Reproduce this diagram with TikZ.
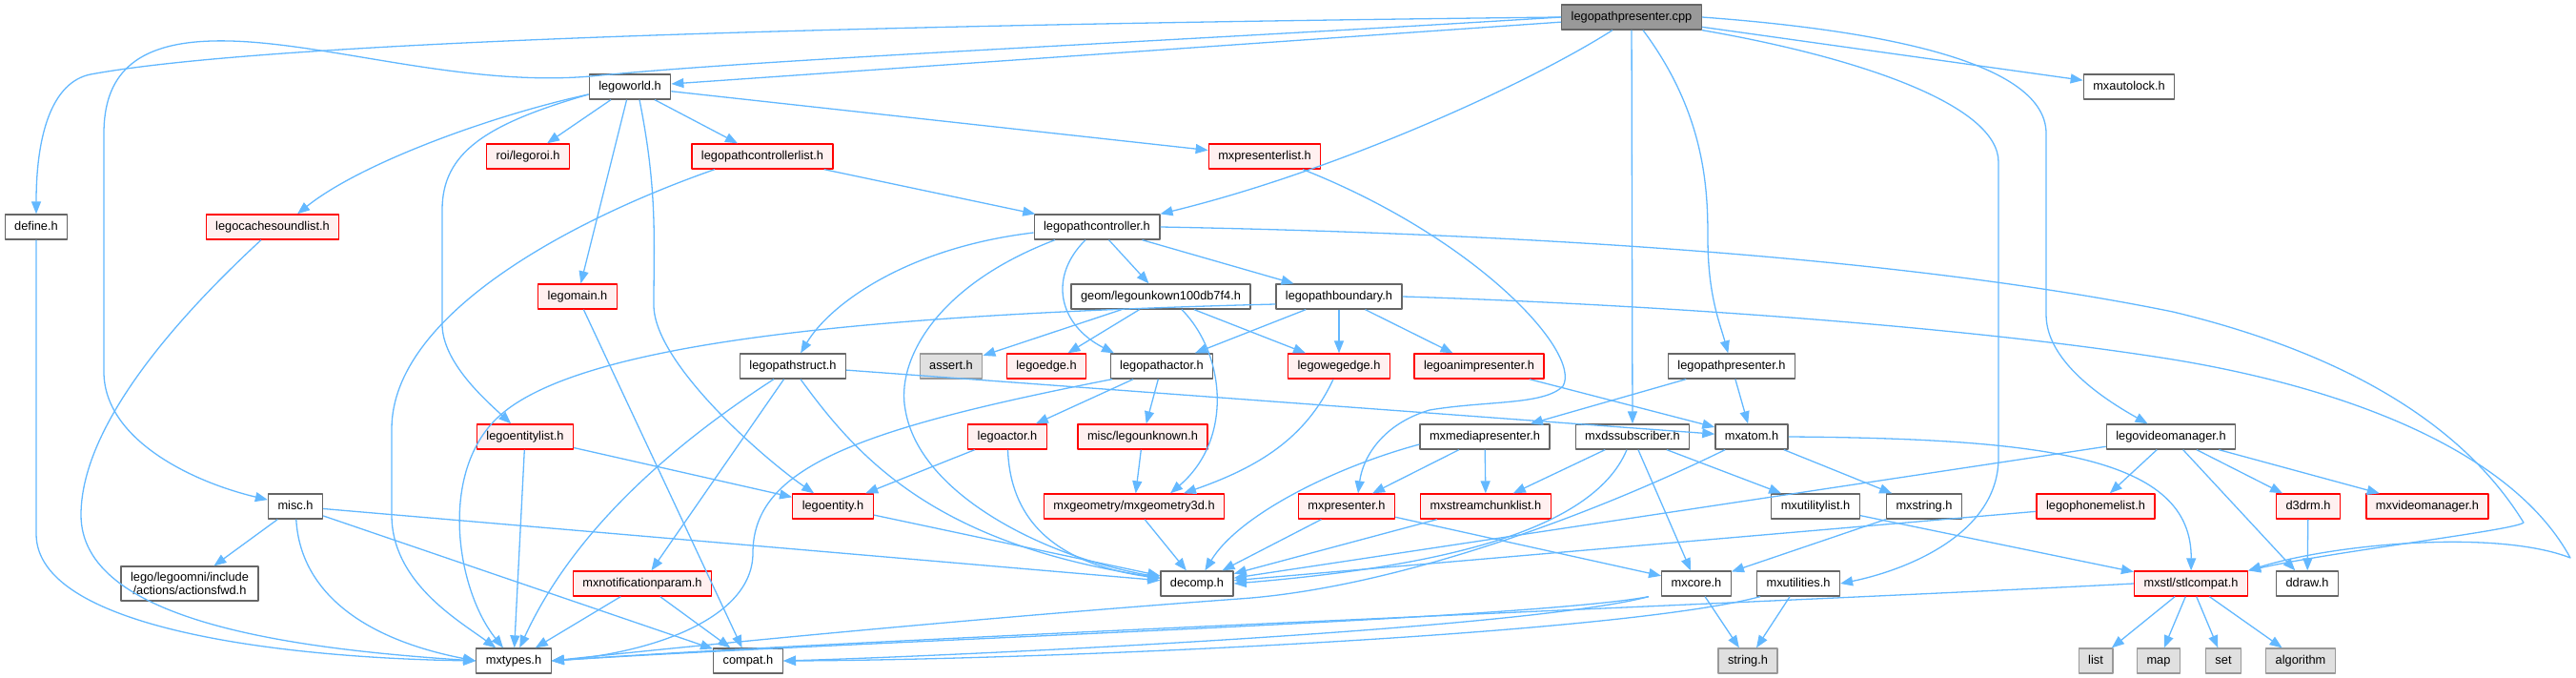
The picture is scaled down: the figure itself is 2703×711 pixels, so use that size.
\documentclass[tikz,border=0pt]{standalone}
\usepackage{fontspec}
\setmainfont{Liberation Sans}
\usetikzlibrary{arrows.meta}
\definecolor{edgeblue}{HTML}{63B8FF}
\definecolor{boxgray}{HTML}{666666}
\definecolor{fillred}{HTML}{FFF0F0}
\definecolor{sysfill}{HTML}{E0E0E0}
\definecolor{sysgray}{HTML}{999999}
\definecolor{srcfill}{HTML}{999999}
\begin{document}
\begin{tikzpicture}[x=0.5pt,y=-0.5pt,font=\fontsize{6.4}{7.2}\selectfont,line join=round,>={Triangle[length=6.5pt,width=5pt]},
hdr/.style={draw=boxgray,fill=white,line width=.65pt,minimum height=13pt,inner xsep=5pt,inner ysep=0pt,text height=4.7pt,text depth=1.3pt},
part/.style={hdr,draw=red,fill=fillred},
sys/.style={hdr,draw=sysgray,fill=sysfill},
src/.style={hdr,fill=srcfill},
dep/.style={->,draw=edgeblue,line width=.65pt}]
\useasboundingbox (0,0) rectangle (2703,711);
% files, row by row
\node[src] (cpp) at (1712,18) {legopathpresenter.cpp};
\node[hdr] (world) at (661,91) {legoworld.h};
\node[hdr] (autolock) at (2234,91) {mxautolock.h};
\node[part] (roi) at (554,164) {roi/legoroi.h};
\node[part] (pclist) at (800,164) {legopathcontrollerlist.h};
\node[part] (prlist) at (1327,164) {mxpresenterlist.h};
\node[hdr] (define) at (38,238) {define.h};
\node[part] (sndlist) at (286,238) {legocachesoundlist.h};
\node[hdr] (pctrl) at (1151,238) {legopathcontroller.h};
\node[part] (lmain) at (606,311) {legomain.h};
\node[hdr] (geom) at (1218,311) {geom/legounkown100db7f4.h};
\node[hdr] (bound) at (1405,311) {legopathboundary.h};
\node[hdr] (pstruct) at (832,384) {legopathstruct.h};
\node[sys] (assert) at (998,384) {assert.h};
\node[part] (ledge) at (1098,384) {legoedge.h};
\node[hdr] (pactor) at (1219,384) {legopathactor.h};
\node[part] (wegedge) at (1405,384) {legowegedge.h};
\node[part] (animpres) at (1552,384) {legoanimpresenter.h};
\node[hdr] (pathpres) at (1817,384) {legopathpresenter.h};
\node[part] (entlist) at (551,458) {legoentitylist.h};
\node[part] (actor) at (1057,458) {legoactor.h};
\node[part] (unknown) at (1199,458) {misc/legounknown.h};
\node[hdr] (media) at (1558,458) {mxmediapresenter.h};
\node[hdr] (dssub) at (1713,458) {mxdssubscriber.h};
\node[hdr] (atom) at (1838,458) {mxatom.h};
\node[hdr] (vidmgr) at (2278,458) {legovideomanager.h};
\node[hdr] (misc) at (310,531) {misc.h};
\node[part] (entity) at (874,531) {legoentity.h};
\node[part] (geo3d) at (1190,531) {mxgeometry/mxgeometry3d.h};
\node[part] (presenter) at (1413,531) {mxpresenter.h};
\node[part] (chunks) at (1559,531) {mxstreamchunklist.h};
\node[hdr] (utillist) at (1905,531) {mxutilitylist.h};
\node[hdr] (mxstr) at (2019,531) {mxstring.h};
\node[part] (phonemes) at (2199,531) {legophonemelist.h};
\node[part] (d3drm) at (2422,531) {d3drm.h};
\node[part] (mxvidmgr) at (2547,531) {mxvideomanager.h};
\node[hdr,text height=,text depth=,align=center,inner ysep=3pt] (actfwd) at (199,612) {lego/legoomni/include\\/actions/actionsfwd.h};
\node[part] (notify) at (674,612) {mxnotificationparam.h};
\node[hdr] (decomp) at (1256,612) {decomp.h};
\node[hdr] (core) at (1780,612) {mxcore.h};
\node[hdr] (utils) at (1887,612) {mxutilities.h};
\node[part] (stl) at (2299,612) {mxstl/stlcompat.h};
\node[hdr] (ddraw) at (2421,612) {ddraw.h};
\node[hdr] (mxtypes) at (539,693) {mxtypes.h};
\node[hdr] (compat) at (785,693) {compat.h};
\node[sys] (string) at (1834,693) {string.h};
\node[sys] (list) at (2199,693) {list};
\node[sys] (map) at (2265,693) {map};
\node[sys] (set) at (2333,693) {set};
\node[sys] (algo) at (2414,693) {algorithm};
% includes of the source file
\draw[dep] (cpp) -- (world);
\draw[dep] (cpp.west) .. controls (1000,25) and (300,40) .. (95,78) .. controls (55,86) and (38,140) .. (define);
\draw[dep] (cpp.west) .. controls (1200,45) and (800,62) .. (620,80) .. controls (480,92) and (330,40) .. (223,43) .. controls (140,45) and (109,80) .. (109,140) -- (109,390) .. controls (109,460) and (200,505) .. (misc);
\draw[dep] ([xshift=-10pt]cpp.south) .. controls (1600,90) and (1400,180) .. (pctrl.north east);
\draw[dep] ([xshift=6pt]cpp.south) .. controls (1790,120) and (1792,200) .. (1792,250) .. controls (1792,310) and (1805,340) .. (pathpres);
\draw[dep] (cpp) -- (dssub);
\draw[dep] (cpp) -- (autolock);
\draw[dep] (cpp.east) .. controls (1950,30) and (2147,60) .. (2147,140) -- (2147,330) .. controls (2147,380) and (2210,420) .. (vidmgr);
\draw[dep] (cpp.south east) .. controls (1950,60) and (2097,110) .. (2097,170) -- (2097,480) .. controls (2097,560) and (2000,598) .. (utils.east);
% legoworld.h
\draw[dep] ([yshift=-4pt]world.west) .. controls (520,120) and (380,170) .. ([xshift=13pt]sndlist.north);
\draw[dep] (world) -- (roi);
\draw[dep] (world) -- (lmain);
\draw[dep] ([yshift=-4pt]world.west) .. controls (510,130) and (464,160) .. (464,220) -- (464,340) .. controls (464,380) and (510,420) .. (entlist);
\draw[dep] ([xshift=5pt]world.south) .. controls (690,200) and (686,250) .. (686,320) .. controls (686,380) and (800,480) .. (entity);
\draw[dep] (world) -- (pclist);
\draw[dep] (world) -- (prlist);
% lists, define.h, legomain.h
\draw[dep] (pclist) -- (pctrl);
\draw[dep] ([xshift=-25pt]pclist.south) .. controls (600,230) and (411,330) .. (411,450) -- (411,540) .. controls (411,610) and (480,650) .. (mxtypes);
\draw[dep] ([xshift=20pt]prlist.south) .. controls (1550,250) and (1660,370) .. (1640,405) .. controls (1620,425) and (1560,420) .. (1500,430) .. controls (1450,445) and (1430,480) .. ([xshift=6pt]presenter.north);
\draw[dep] (define) -- (38,560) .. controls (38,660) and (300,690) .. (mxtypes.west);
\draw[dep] ([xshift=-6pt]sndlist.south) .. controls (200,320) and (85,440) .. (85,540) .. controls (85,650) and (300,680) .. (mxtypes.west);
\draw[dep] (lmain) -- (compat);
% legopathcontroller.h
\draw[dep] ([yshift=-3pt]pctrl.west) .. controls (950,260) and (870,320) .. (pstruct);
\draw[dep] ([xshift=-22pt]pctrl.south) .. controls (980,300) and (940,380) .. (950,430) .. controls (965,520) and (1100,585) .. (decomp);
\draw[dep] ([xshift=-6pt]pctrl.south) .. controls (1100,290) and (1110,340) .. ([xshift=-25pt]pactor.north);
\draw[dep] (pctrl) -- (geom);
\draw[dep] (pctrl) -- (bound);
\draw[dep] (pctrl.east) .. controls (1600,245) and (2000,270) .. (2280,327) .. controls (2500,380) and (2600,470) .. (2648,548) .. controls (2640,556) and (2450,578) .. (stl.north east);
% legopathboundary.h
\draw[dep] (bound) -- (pactor);
\draw[dep] (bound) -- (wegedge);
\draw[dep] (bound) -- (animpres);
\draw[dep] ([yshift=-4pt]bound.west) .. controls (900,330) and (600,360) .. (520,440) .. controls (460,500) and (480,620) .. (mxtypes);
\draw[dep] (bound.east) .. controls (1700,318) and (2050,340) .. (2280,377) .. controls (2480,410) and (2640,480) .. (2697,585) .. controls (2620,555) and (2450,570) .. (stl.north east);
% geom/legounkown100db7f4.h
\draw[dep] (geom) -- (assert);
\draw[dep] (geom) -- (ledge);
\draw[dep] (geom) -- (wegedge);
\draw[dep] ([xshift=11pt]geom.south) .. controls (1285,370) and (1295,460) .. ([xshift=19pt]geo3d.north);
% legopathstruct.h
\draw[dep] (pstruct) -- (notify);
\draw[dep] ([xshift=-10pt]pstruct.south) .. controls (700,470) and (600,560) .. (mxtypes);
\draw[dep] ([xshift=4pt]pstruct.south) .. controls (900,480) and (980,570) .. (decomp);
\draw[dep] (pstruct) -- (atom);
% actors and entities
\draw[dep] (pactor) -- (actor);
\draw[dep] (pactor) -- (unknown);
\draw[dep] ([xshift=-26pt]pactor.south) .. controls (900,450) and (790,490) .. (790,580) .. controls (790,650) and (680,685) .. (mxtypes.east);
\draw[dep] (actor) -- (entity);
\draw[dep] (actor) .. controls (1060,540) and (1100,590) .. (decomp);
\draw[dep] (unknown) -- (geo3d);
\draw[dep] ([xshift=-3pt]wegedge.south) .. controls (1370,460) and (1320,490) .. ([xshift=26pt]geo3d.north);
\draw[dep] (animpres) -- (atom);
\draw[dep] (entity) -- (decomp);
\draw[dep] (geo3d) -- (decomp);
\draw[dep] (entlist) -- (entity);
\draw[dep] (entlist) -- (mxtypes);
\draw[dep] (notify) -- (mxtypes);
\draw[dep] (notify) -- (compat);
% misc.h
\draw[dep] (misc) -- (actfwd);
\draw[dep] (misc) .. controls (315,620) and (380,670) .. (mxtypes.west);
\draw[dep] (misc) -- (decomp);
\draw[dep] (misc) -- (compat);
% presenters, subscriber, atom
\draw[dep] (pathpres) -- (media);
\draw[dep] (pathpres) -- (atom);
\draw[dep] (media) -- (presenter);
\draw[dep] (media) -- (chunks);
\draw[dep] ([yshift=-4pt]media.west) .. controls (1400,490) and (1300,540) .. (decomp);
\draw[dep] (presenter) -- (decomp);
\draw[dep] (presenter) -- (core);
\draw[dep] (chunks) -- (decomp);
\draw[dep] (dssub) -- (chunks);
\draw[dep] (dssub) -- (utillist);
\draw[dep] (dssub) -- (core);
\draw[dep] ([xshift=-3pt]dssub.south) .. controls (1670,560) and (1500,595) .. (decomp.east);
\draw[dep] (atom) -- (mxstr);
\draw[dep] (atom.east) .. controls (2150,460) and (2300,480) .. (stl);
\draw[dep] (atom) .. controls (1650,550) and (1450,618) .. (1300,628) .. controls (1000,650) and (700,680) .. (mxtypes.east);
\draw[dep] (utillist) -- (stl);
\draw[dep] (mxstr) -- (core);
% legovideomanager.h
\draw[dep] (vidmgr) -- (decomp);
\draw[dep] (vidmgr) -- (phonemes);
\draw[dep] (vidmgr) -- (ddraw);
\draw[dep] (vidmgr) -- (d3drm);
\draw[dep] (vidmgr) -- (mxvidmgr);
\draw[dep] (phonemes) -- (decomp);
\draw[dep] (d3drm) -- (ddraw);
% bottom rows
\draw[dep] (core) -- (string);
\draw[dep] ([xshift=-25pt]core.south) .. controls (1600,650) and (900,672) .. (mxtypes.east);
\draw[dep] ([xshift=-25pt]core.south) .. controls (1600,660) and (1000,688) .. (compat.east);
\draw[dep] (utils) -- (string);
\draw[dep] ([xshift=-20pt]utils.south) .. controls (1700,665) and (1100,692) .. (compat.east);
\draw[dep] (stl.west) .. controls (1900,630) and (900,670) .. (mxtypes.east);
\draw[dep] (stl) -- (list);
\draw[dep] (stl) -- (map);
\draw[dep] (stl) -- (set);
\draw[dep] (stl) -- (algo);
\end{tikzpicture}
\end{document}
